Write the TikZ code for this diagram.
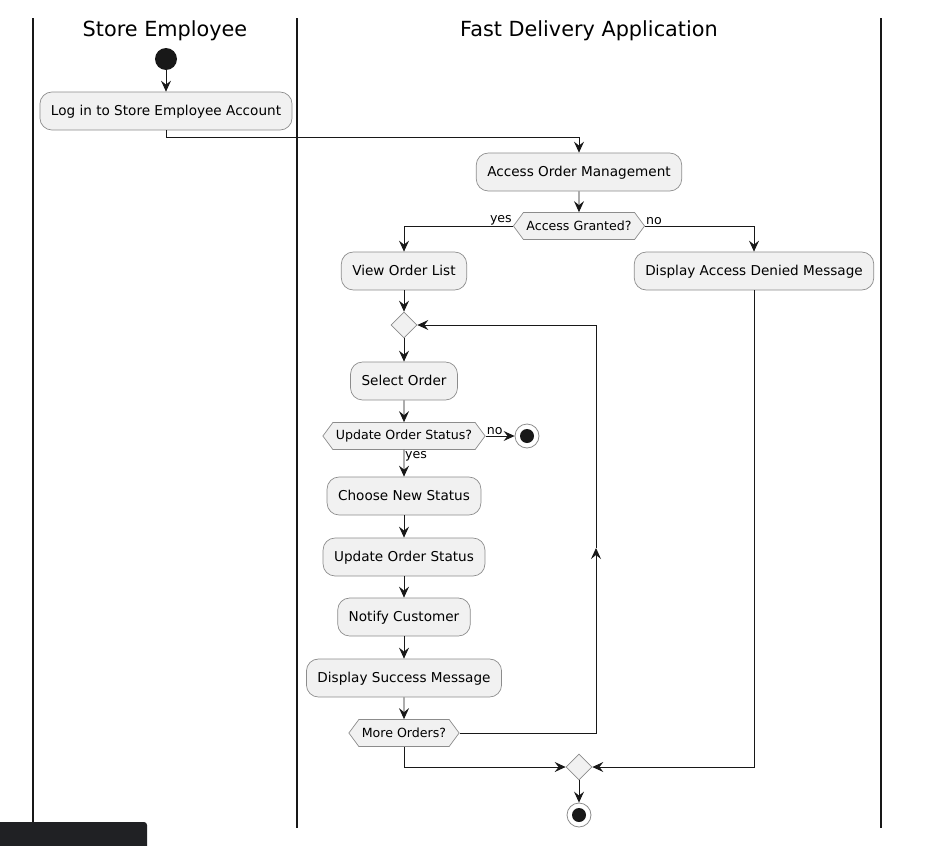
\documentclass[tikz,border=0pt]{standalone}
\usepackage{fontspec}
\setmainfont{DejaVu Sans}
\usetikzlibrary{arrows.meta,shapes.geometric,shapes.symbols,positioning}
\definecolor{boxfill}{HTML}{F1F1F1}
\definecolor{boxline}{HTML}{8C8C8C}
\definecolor{ink}{HTML}{181818}
\definecolor{darkbar}{HTML}{202124}
\begin{document}
\begin{tikzpicture}[x=1pt,y=-1pt,
	act/.style={draw=boxline, line width=0.7pt, fill=boxfill, rounded corners=12pt, minimum height=38pt, inner xsep=11pt, text height=10pt, text depth=2pt, font=\fontsize{13.6}{16}\selectfont},
	hex/.style={draw=boxline, line width=0.7pt, fill=boxfill, shape=signal, signal to=west and east, signal pointer angle=107, minimum height=27pt, inner xsep=3pt, inner ysep=0pt, font=\fontsize{12.6}{15}\selectfont},
	merge/.style={draw=boxline, line width=0.7pt, fill=boxfill, diamond, minimum width=26pt, minimum height=26pt, inner sep=0pt},
	arr/.style={draw=ink, line width=0.9pt, -{Stealth[length=11pt,width=10pt,inset=4pt]}},
	lbl/.style={font=\fontsize{12.6}{15}\selectfont, inner sep=1pt},
	stopnode/.style={circle, draw=boxline, line width=0.8pt, fill=white, minimum size=24pt, inner sep=0pt,
		path picture={\fill[ink] (path picture bounding box.center) circle (7pt);}}
]
\useasboundingbox (0,0) rectangle (932,846);
% swimlanes
\foreach \x in {33,297,881}{
	\draw[line width=1.3pt, ink] (\x,18) -- (\x,828);
}
\node[font=\fontsize{20.8}{25}\selectfont] (laneemp) at (165,31) {Store Employee};
\node[font=\fontsize{20.8}{25}\selectfont] (laneapp) at (589,31) {Fast Delivery Application};
% store employee
\node[circle, fill=ink, minimum size=22pt, inner sep=0pt] (start) at (166,59) {};
\node[act] (login) at (166,111) {Log in to Store Employee Account};
\draw[arr] (start) -- (login);
% application
\node[act] (aom) at (579,172) {Access Order Management};
\draw[arr] (login.south) -- ++(0,7) -| (aom.north);
\node[hex] (granted) at (579,226) {Access Granted?};
\draw[arr] (aom) -- (granted);
\node[act] (vol) at (404,271) {View Order List};
\node[act] (denied) at (754,271) {Display Access Denied Message};
\draw[arr] (granted.west) -| (vol.north);
\draw[arr] (granted.east) -| (denied.north);
\node[lbl, anchor=south east] (yes1) at (granted.west) {yes};
\node[lbl, anchor=south west] (no1) at (granted.east) {no};
\node[merge] (loop) at (404,325) {};
\draw[arr] (vol) -- (loop);
\node[act] (sel) at (404,381) {Select Order};
\draw[arr] (loop) -- (sel);
\node[hex] (ask) at (404,436) {Update Order Status?};
\draw[arr] (sel) -- (ask);
\node[stopnode] (stop1) at (527,436) {};
\draw[arr] (ask.east) -- (stop1);
\node[lbl, anchor=south west] (no2) at (ask.east) {no};
\node[lbl, anchor=north west] (yes2) at (ask.south) {yes};
\foreach \n/\t/\y in {choose/Choose New Status/496, upd/Update Order Status/557, notify/Notify Customer/617, succ/Display Success Message/678}{
	\node[act] (\n) at (404,\y) {\t};
}
\node[hex] (more) at (404,733) {More Orders?};
\foreach \a/\b in {ask/choose, choose/upd, upd/notify, notify/succ, succ/more}{
	\draw[arr] (\a) -- (\b);
}
% loop back
\coordinate (backbot) at (596,733);
\coordinate (backmid) at (596,548);
\coordinate (backtop) at (596,325);
\draw[arr] (more.east) -- (backbot) -- (backmid);
\draw[arr] (backmid) -- (backtop) -- (loop.east);
% end
\node[merge] (join) at (579,767) {};
\draw[arr] (more.south) |- (join.west);
\draw[arr] (denied.south) |- (join.east);
\node[stopnode] (stop2) at (579,815) {};
\draw[arr] (join) -- (stop2);
% dark bar
\fill[darkbar] (0,846) -- (0,822) [rounded corners=3pt] -- (147,822) [sharp corners] -- (147,846) -- cycle;
\end{tikzpicture}
\end{document}
